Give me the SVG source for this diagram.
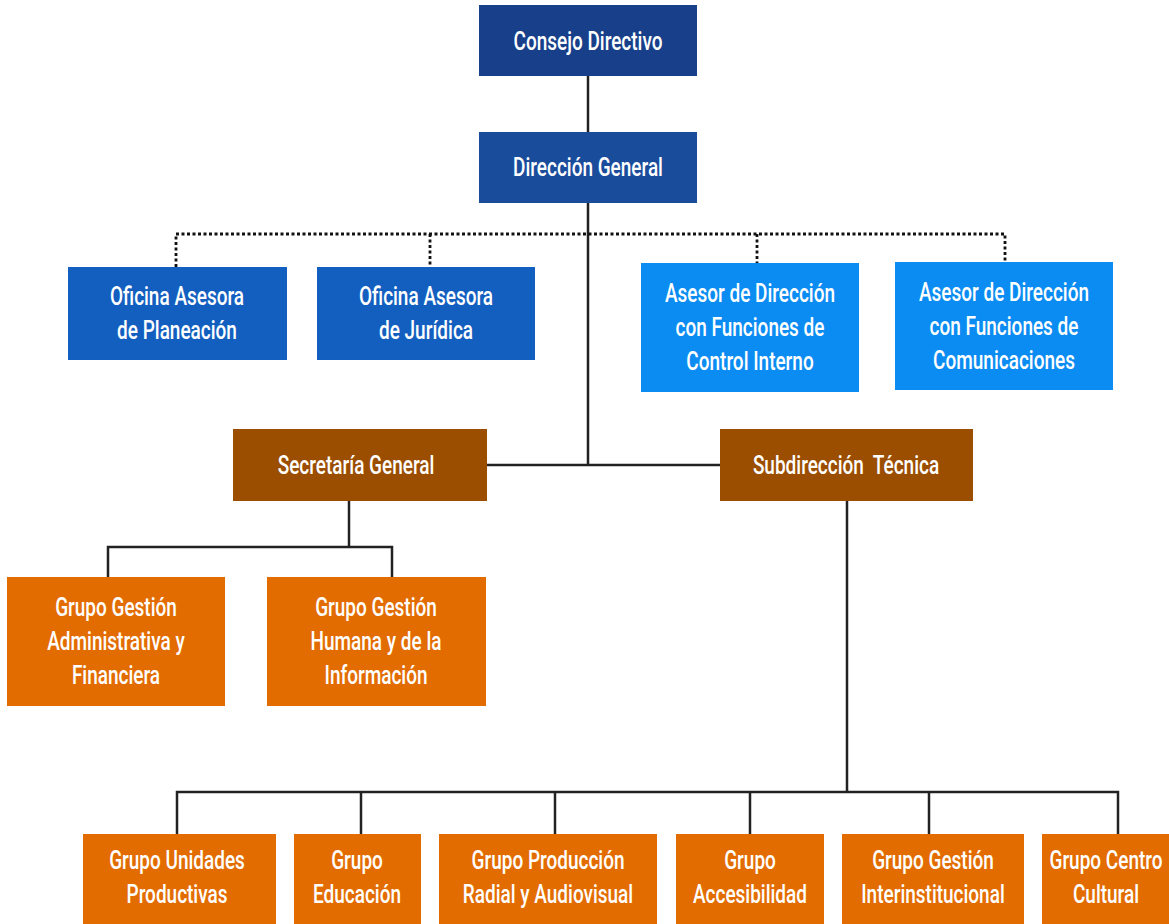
<svg xmlns="http://www.w3.org/2000/svg" width="1169" height="924" viewBox="0 0 1169 924">
<style>
.t{font-family:Roboto,"Liberation Sans",sans-serif;font-size:19px;font-weight:500;fill:#fff;text-anchor:middle}
.ln{stroke:#222;stroke-width:2.5;fill:none}
.dt{stroke:#111;stroke-width:2.8;fill:none;stroke-dasharray:3 2.5}
.b1{fill:#173f8a}.b2{fill:#1a4c9c}.b3{fill:#135fc0}.b4{fill:#0b8cf2}.b5{fill:#9b4d00}.b6{fill:#e36c00}
</style>
<rect width="1169" height="924" fill="#fff"/>
<g id="connectors">
<line class="ln" x1="588" y1="76" x2="588" y2="133"/>
<line class="ln" x1="588" y1="203" x2="588" y2="465"/>
<line class="ln" x1="487" y1="465" x2="720" y2="465"/>
<polyline class="dt" points="176,267 176,234 1005,234 1005,262"/>
<line class="dt" x1="430" y1="234" x2="430" y2="267"/>
<line class="dt" x1="757" y1="234" x2="757" y2="263"/>
<polyline class="ln" points="349,501 349,547"/>
<polyline class="ln" points="108,577 108,547 392,547 392,577"/>
<line class="ln" x1="847" y1="501" x2="847" y2="792"/>
<polyline class="ln" points="177,834 177,792 1118,792 1118,834"/>
<line class="ln" x1="361" y1="792" x2="361" y2="834"/>
<line class="ln" x1="555" y1="792" x2="555" y2="834"/>
<line class="ln" x1="750" y1="792" x2="750" y2="834"/>
<line class="ln" x1="929" y1="792" x2="929" y2="834"/>
</g>
<g id="consejo"><rect class="b1" x="479" y="5" width="218" height="71"/>
<text class="t" transform="translate(588,41) scale(1,1.38)" y="6.7">Consejo Directivo</text></g>
<g id="direccion"><rect class="b2" x="479" y="132" width="218" height="71"/>
<text class="t" transform="translate(588,167) scale(1,1.38)" y="6.7">Dirección General</text></g>
<g id="planeacion"><rect class="b3" x="68" y="267" width="219" height="93"/>
<text class="t" transform="translate(177,313) scale(1,1.38)"><tspan x="0" y="-5.6">Oficina Asesora</tspan><tspan x="0" y="19">de Planeación</tspan></text></g>
<g id="juridica"><rect class="b3" x="317" y="267" width="218" height="93"/>
<text class="t" transform="translate(426,313) scale(1,1.38)"><tspan x="0" y="-5.6">Oficina Asesora</tspan><tspan x="0" y="19">de Jurídica</tspan></text></g>
<g id="control"><rect class="b4" x="641" y="263" width="218" height="129"/>
<text class="t" transform="translate(750,327) scale(1,1.38)"><tspan x="0" y="-17.9">Asesor de Dirección</tspan><tspan x="0" y="6.7">con Funciones de</tspan><tspan x="0" y="31.3">Control Interno</tspan></text></g>
<g id="comunicaciones"><rect class="b4" x="895" y="262" width="218" height="128"/>
<text class="t" transform="translate(1004,326) scale(1,1.38)"><tspan x="0" y="-17.9">Asesor de Dirección</tspan><tspan x="0" y="6.7">con Funciones de</tspan><tspan x="0" y="31.3">Comunicaciones</tspan></text></g>
<g id="secretaria"><rect class="b5" x="233" y="429" width="254" height="72"/>
<text class="t" transform="translate(356,465) scale(1,1.38)" y="6.7">Secretaría General</text></g>
<g id="subdireccion"><rect class="b5" x="720" y="429" width="253" height="72"/>
<text class="t" transform="translate(846,465) scale(1,1.38)" y="6.7" xml:space="preserve">Subdirección  Técnica</text></g>
<g id="admin"><rect class="b6" x="7" y="577" width="218" height="129"/>
<text class="t" transform="translate(116,641) scale(1,1.38)"><tspan x="0" y="-17.9">Grupo Gestión</tspan><tspan x="0" y="6.7">Administrativa y</tspan><tspan x="0" y="31.3">Financiera</tspan></text></g>
<g id="humana"><rect class="b6" x="267" y="577" width="219" height="129"/>
<text class="t" transform="translate(376,641) scale(1,1.38)"><tspan x="0" y="-17.9">Grupo Gestión</tspan><tspan x="0" y="6.7">Humana y de la</tspan><tspan x="0" y="31.3">Información</tspan></text></g>
<g id="unidades"><rect class="b6" x="83" y="834" width="193" height="100"/>
<text class="t" transform="translate(177,877) scale(1,1.38)"><tspan x="0" y="-5.6">Grupo Unidades</tspan><tspan x="0" y="19">Productivas</tspan></text></g>
<g id="educacion"><rect class="b6" x="294" y="834" width="127" height="100"/>
<text class="t" transform="translate(357,877) scale(1,1.38)"><tspan x="0" y="-5.6">Grupo</tspan><tspan x="0" y="19">Educación</tspan></text></g>
<g id="produccion"><rect class="b6" x="439" y="834" width="218" height="100"/>
<text class="t" transform="translate(548,877) scale(1,1.38)"><tspan x="0" y="-5.6">Grupo Producción</tspan><tspan x="0" y="19">Radial y Audiovisual</tspan></text></g>
<g id="accesibilidad"><rect class="b6" x="676" y="834" width="148" height="100"/>
<text class="t" transform="translate(750,877) scale(1,1.38)"><tspan x="0" y="-5.6">Grupo</tspan><tspan x="0" y="19">Accesibilidad</tspan></text></g>
<g id="interinstitucional"><rect class="b6" x="842" y="834" width="182" height="100"/>
<text class="t" transform="translate(933,877) scale(1,1.38)"><tspan x="0" y="-5.6">Grupo Gestión</tspan><tspan x="0" y="19">Interinstitucional</tspan></text></g>
<g id="centro"><rect class="b6" x="1042" y="834" width="140" height="100"/>
<text class="t" transform="translate(1106,877) scale(1,1.38)"><tspan x="0" y="-5.6">Grupo Centro</tspan><tspan x="0" y="19">Cultural</tspan></text></g>
</svg>
